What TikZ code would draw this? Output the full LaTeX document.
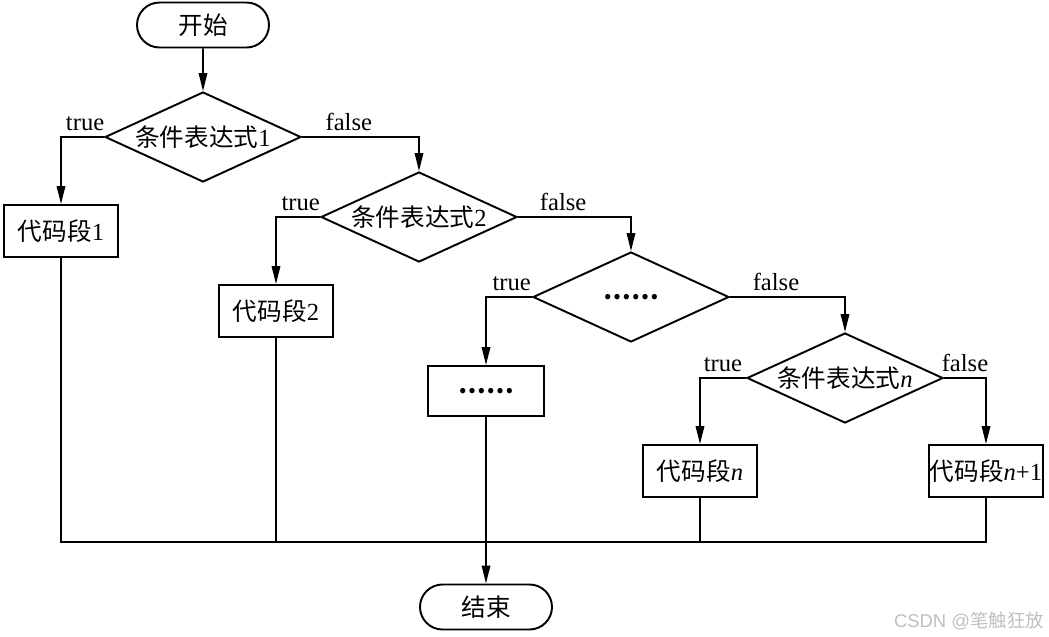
\documentclass[tikz,border=0pt]{standalone}
\usepackage{fontspec}
\setmainfont{Liberation Serif}
\setsansfont{Liberation Sans}
\newfontfamily\cjkfont{Noto Sans CJK SC}
\usetikzlibrary{arrows.meta,shapes.geometric,shapes.misc}

\begin{document}
\begin{tikzpicture}[x=1cm,y=1cm,font=\fontsize{14}{16}\selectfont,
term/.style={draw,line width=1.1pt,shape=rounded rectangle,minimum width=2.64cm,minimum height=.9cm,inner sep=0pt},
cond/.style={draw,line width=1.1pt,shape=diamond,aspect=2.18,minimum width=3.92cm,minimum height=1.8cm,inner sep=0pt},
code/.style={draw,line width=1.1pt,minimum width=2.28cm,minimum height=1.04cm,inner sep=0pt},
arr/.style={-{Triangle[length=3.6mm,width=1.7mm]},line width=1pt},
mergeline/.style={line width=1pt},
lbl/.style={above,inner sep=3pt}]
\useasboundingbox (0,0) rectangle (20.98,-12.72);

\node[term] (start)at(4.06,-.5){{\cjkfont 开始}};
\node[cond] (c1)at(4.06,-2.74){{\cjkfont 条件表达式}1};
\node[code] (s1)at(1.22,-4.62){{\cjkfont 代码段}1};
\node[cond] (c2)at(8.38,-4.34){{\cjkfont 条件表达式}2};
\node[code] (s2)at(5.52,-6.22){{\cjkfont 代码段}2};
\node[cond] (c3)at(12.62,-5.94){{\cjkfont\bfseries ……}};
\node[code,minimum width=2.32cm,minimum height=1cm] (s3)at(9.72,-7.82){{\cjkfont\bfseries ……}};
\node[cond] (cn)at(16.9,-7.56){{\cjkfont 条件表达式}\textit{n}};
\node[code] (sn)at(14,-9.42){{\cjkfont 代码段}\textit{n}};
\node[code] (sn1)at(19.72,-9.42){{\cjkfont 代码段}\textit{n}+1};
\node[term] (stop)at(9.72,-12.14){{\cjkfont 结束}};
\coordinate (m)at(0,-10.84);

\draw[arr](start)--(c1);
\draw[arr](c1.west)-|node[lbl,pos=.22]{true}(s1.north);
\draw[arr](c1.east)-|node[lbl,pos=.2]{false}(c2.north);
\draw[arr](c2.west)-|node[lbl,pos=.22]{true}(s2.north);
\draw[arr](c2.east)-|node[lbl,pos=.2]{false}(c3.north);
\draw[arr](c3.west)-|node[lbl,pos=.22]{true}(s3.north);
\draw[arr](c3.east)-|node[lbl,pos=.2]{false}(cn.north);
\draw[arr](cn.west)-|node[lbl,pos=.25]{true}(sn.north);
\draw[arr](cn.east)-|node[lbl,pos=.25]{false}(sn1.north);

\draw[mergeline](s1.south)--(s1|-m)--(sn1|-m)--(sn1.south);
\draw[mergeline](s2.south)--(s2|-m);
\draw[mergeline](sn.south)--(sn|-m);
\draw[arr](s3)--(stop);

\node[text=black!25,font=\sffamily\fontsize{10.5}{12}\selectfont] (wm)at(19.38,-12.42){CSDN @{\cjkfont 笔触狂放}};
\end{tikzpicture}
\end{document}
